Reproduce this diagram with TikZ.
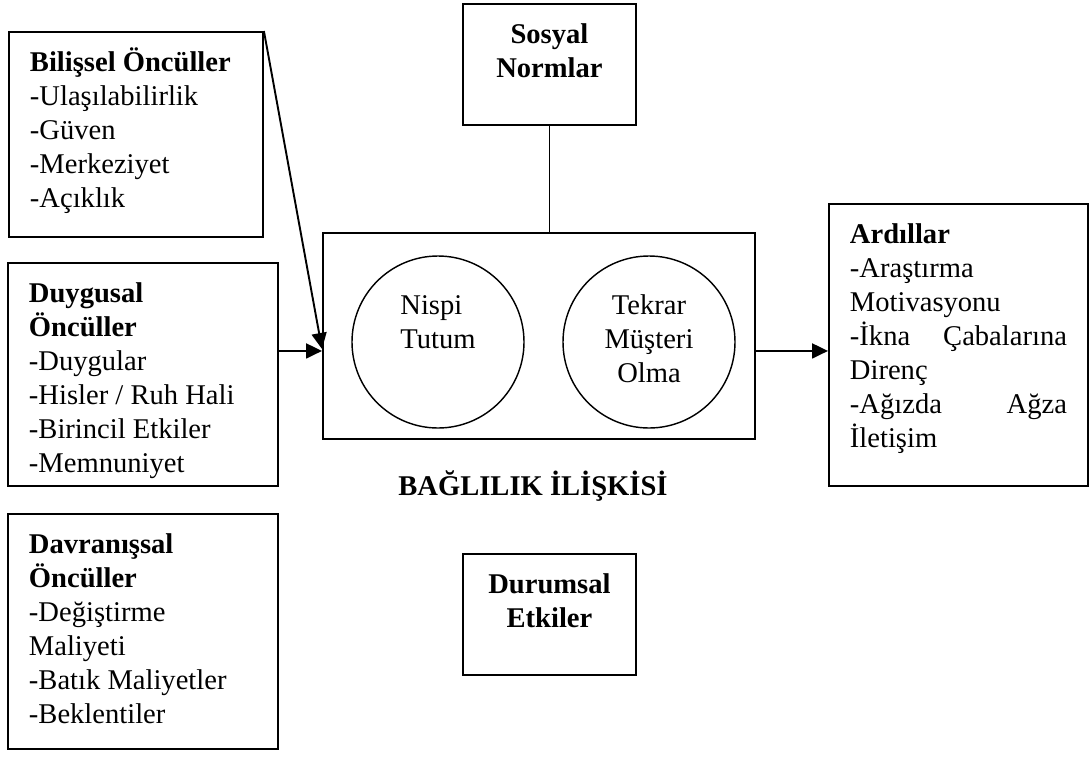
\documentclass[tikz,border=0pt]{standalone}
\usepackage{fontspec}
\setmainfont{Liberation Serif}
\usepackage{tikz}
\usetikzlibrary{arrows.meta,positioning}
\newlength{\px}
\setlength{\px}{0.42pt}
\newcommand{\yazi}{\fontsize{12}{14.3}\selectfont}
\newcommand{\kutuyazi}[3]{\parbox[t][#2\px][t]{#1\px}{\raggedright\rule{0pt}{12pt}#3}}
\newcommand{\ortayazi}[3]{\parbox[t][#2\px][t]{#1\px}{\centering\rule{0pt}{12pt}#3}}
\tikzset{
  kutu/.style={draw,line width=0.8pt,inner xsep=21\px,inner ysep=11\px,anchor=north west,font=\yazi},
  bagkutu/.style={draw,line width=0.8pt,anchor=north west,minimum width=432\px,minimum height=206\px,inner sep=0pt},
  daire/.style={draw,circle,line width=0.6pt,minimum size=172\px,inner sep=0pt,font=\yazi},
  baslik/.style={inner sep=0pt,font=\yazi\bfseries},
  ok/.style={-{Triangle[length=6.7pt,width=6.3pt]},line width=0.8pt},
  cizgi/.style={line width=0.8pt}
}
\begin{document}
\begin{tikzpicture}[x=\px,y=-\px]
  \useasboundingbox (0,0) rectangle (1090,758);
  % sol taraf: onculler
  \node[kutu] (bilissel) at (8,31) {\kutuyazi{212}{183}{\textbf{Bilişsel Öncüller}\\-Ulaşılabilirlik\\-Güven\\-Merkeziyet\\-Açıklık}};
  \node[kutu] (duygusal) at (7,262) {\kutuyazi{228}{201}{\textbf{Duygusal}\\\textbf{Öncüller}\\-Duygular\\-Hisler / Ruh Hali\\-Birincil Etkiler\\-Memnuniyet}};
  \node[kutu] (davranissal) at (7,513) {\kutuyazi{228}{213}{\textbf{Davranışsal}\\\textbf{Öncüller}\\-Değiştirme\\Maliyeti\\-Batık Maliyetler\\-Beklentiler}};
  % orta: baglilik iliskisi
  \node[bagkutu] (bag) at (322,232) {};
  \node[daire] (nispi) at (438,342) {\begin{tabular}{@{}l@{}}Nispi\\Tutum\\\phantom{X}\end{tabular}};
  \node[daire] (tekrar) at (649,342) {\begin{tabular}{@{}c@{}}Tekrar\\Müşteri\\Olma\end{tabular}};
  \node[baslik,below=30\px of bag,xshift=-6\px] (iliski) {BAĞLILIK İLİŞKİSİ};
  \node[kutu] (sosyal) at (462,3) {\ortayazi{131}{99}{\textbf{Sosyal}\\\textbf{Normlar}}};
  \node[kutu] (durumsal) at (462,553) {\ortayazi{131}{99}{\textbf{Durumsal}\\\textbf{Etkiler}}};
  % sag taraf: ardillar
  \node[kutu] (ardillar) at (828,203) {\kutuyazi{217}{260}{\textbf{Ardıllar}\\-Araştırma\\Motivasyonu\\-İkna\hfill Çabalarına\\Direnç\\-Ağızda\hfill Ağza\\İletişim}};
  \coordinate (giris) at ([yshift=-15\px]bag.west);
  \draw[ok] (bilissel.north east) -- ([yshift=2\px]giris);
  \draw[ok] (duygusal.east |- giris) -- (giris);
  \draw[ok] (bag.east |- giris) -- (ardillar.west |- giris);
  \draw[cizgi] (sosyal.south) -- (sosyal.south |- bag.north);
\end{tikzpicture}
\end{document}
